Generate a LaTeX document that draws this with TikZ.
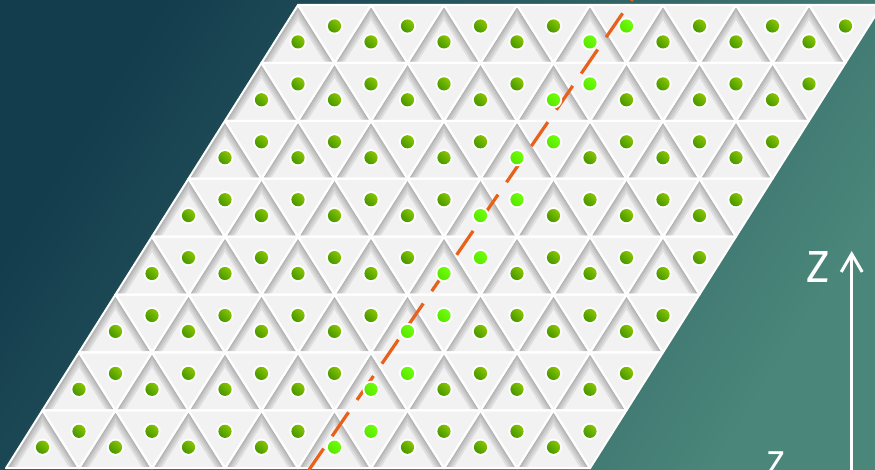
\documentclass[tikz,border=0pt]{standalone}
\usepackage{fontspec}
\newfontfamily\zfont{Fira Sans}
\usepackage{tikz}
\usetikzlibrary{arrows.meta, positioning}
\definecolor{bgdark}{RGB}{19, 60, 77}
\definecolor{bglight}{RGB}{74, 134, 122}
\definecolor{tilegray}{RGB}{242, 242, 242}
\definecolor{shadegray}{RGB}{110, 110, 110}
\definecolor{dotdark}{RGB}{70, 150, 0}
\definecolor{dotlight}{RGB}{138, 198, 0}
\definecolor{limedark}{RGB}{88, 230, 0}
\definecolor{limelight}{RGB}{112, 255, 10}
\definecolor{trailorange}{RGB}{232, 96, 26}

\begin{document}
\begin{tikzpicture}[x=1pt, y=-1pt,
  tile/.style={fill=tilegray},
  seam/.style={draw=white, line width=2pt, line join=round},
  inshade/.style={shadegray, opacity=.14},
  ring/.style={fill=white},
  greendot/.style={top color=dotlight, bottom color=dotdark, shading angle=-45},
  limedot/.style={top color=limelight, bottom color=limedark, shading angle=-45},
  trail/.style={trailorange, line width=3.2pt, dash pattern=on 29pt off 15pt,
                dash phase=25.4pt},
  zlabel/.style={text=white, inner sep=0pt},
]
  \def\W{73}    % base of one triangle
  \def\H{57.9}  % row height
  \def\Xo{298}  % top left corner
  \def\Yo{5}

  \useasboundingbox (0,0) rectangle (875,470);
  \clip (0,0) rectangle (875,470);
  \shade[left color=bgdark, right color=bglight, shading angle=58]
    (0,0) rectangle (875,470);

  % --- tiles ---
  \foreach \r in {0,...,7} {
    \foreach \k in {0,...,7} {
      \pgfmathsetmacro\ax{\Xo - \r*\W/2 + \k*\W}
      \pgfmathsetmacro\yt{\Yo + \r*\H}
      \pgfmathsetmacro\yb{\Yo + (\r+1)*\H}
      \fill[tile] (\ax,\yt) -- (\ax+\W,\yt) -- (\ax+\W/2,\yb) -- cycle;
      \fill[tile] (\ax,\yt) -- (\ax-\W/2,\yb) -- (\ax+\W/2,\yb) -- cycle;
      \begin{scope}
        \clip (\ax,\yt) -- (\ax-\W/2,\yb) -- (\ax+\W/2,\yb) -- cycle;
        \foreach \lw in {16,12,8,5,2}
          \draw[inshade, line width=\lw pt]
            (\ax-\W/2,\yb) -- (\ax,\yt) -- (\ax+\W/2,\yb);
      \end{scope}
    }
  }

  % seams
  \foreach \r in {0,...,7} {
    \foreach \k in {0,...,7} {
      \pgfmathsetmacro\ax{\Xo - \r*\W/2 + \k*\W}
      \pgfmathsetmacro\yt{\Yo + \r*\H}
      \pgfmathsetmacro\yb{\Yo + (\r+1)*\H}
      \draw[seam] (\ax,\yt) -- (\ax-\W/2,\yb) -- (\ax+\W/2,\yb) -- cycle;
      \draw[seam] (\ax,\yt) -- (\ax+\W,\yt) -- (\ax+\W/2,\yb) -- cycle;
    }
  }

  % --- dashed trail ---
  \coordinate (trailtop) at (633.1,-2);
  \coordinate (trailbot) at (307.5,472);
  \draw[trail] (trailtop) -- (trailbot);

  % --- dots ---
  \foreach \r in {0,...,7} {
    \foreach \k in {0,...,7} {
      \pgfmathsetmacro\ax{\Xo - \r*\W/2 + \k*\W}
      \pgfmathsetmacro\yt{\Yo + \r*\H}
      \pgfmathsetmacro\yb{\Yo + (\r+1)*\H}
      \ifnum\k=4 \def\dotsty{limedot}\else\def\dotsty{greendot}\fi
      \fill[ring] (\ax,\yb-21) circle (8.6);
      \shade[\dotsty] (\ax,\yb-21) circle (6.6);
      \fill[ring] (\ax+\W/2,\yt+21) circle (8.6);
      \shade[\dotsty] (\ax+\W/2,\yt+21) circle (6.6);
    }
  }

  % --- axis ---
  \coordinate (zfoot) at (851.7,476);
  \coordinate (zhead) at (851.7,251);
  \draw[white, line width=3pt, -{Straight Barb[length=18pt, width=21pt]}]
    (zfoot) -- (zhead);
  \node[zlabel, font=\zfont\fontsize{45}{45}\selectfont] (zup) at (818,267) {Z};
  \node[zlabel, font=\zfont\fontsize{36}{36}\selectfont] (zlow) at (775.5,464.5) {Z};

\end{tikzpicture}
\end{document}
